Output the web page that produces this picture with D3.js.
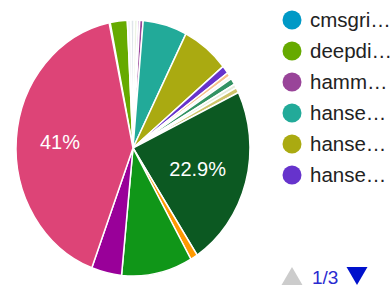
<!DOCTYPE html>
<html>
<head>
<meta charset="utf-8">
<script src="https://cdn.jsdelivr.net/npm/d3@7"></script>
<style>
  body { margin: 0; background: #fff; }
  svg { display: block; font-family: Arial, "Liberation Sans", sans-serif; }
</style>
</head>
<body>
<svg id="chart" width="391" height="290"></svg>
<script>
// slice values (percent), clockwise from the first slice
const sliceValues = [0.15, 2.35, 0.5, 0.45, 0.45, 0.3, 0.47, 6.08, 6.53, 1.0,
  0.5, 0.4, 0.8, 0.5, 0.66, 22.9, 1.0, 9.8, 4.16, 41];
const sliceColors = ['#0099c6', '#66aa00', '#f2f4f6', '#dfe5ea', '#edf4e6', '#dcb8e4', '#994499', '#22aa99', '#aaaa11', '#6633cc',
  '#f6c08a', '#f6f7f3', '#329262', '#e4eddc', '#cfc46a', '#0c5922', '#ff9900', '#109618', '#990099', '#dd4477'];

// legend page 1 of 3
const legendNames = ['cmsgri…', 'deepdi…', 'hamm…', 'hanse…', 'hanse…', 'hanse…'];
const legendColors = ['#0099c6', '#66aa00', '#994499', '#22aa99', '#aaaa11', '#6633cc'];
const pageLabel = '1/3';

const svg = d3.select('#chart');

const cx = 133, cy = 148, rx = 117, ry = 128;
const startAngle = -11.8 * Math.PI / 180;

const pie = d3.pie().sort(null)
  .startAngle(startAngle).endAngle(startAngle + 2 * Math.PI);
const arcs = pie(sliceValues);
const total = d3.sum(sliceValues);

const arc = d3.arc().innerRadius(0).outerRadius(ry);
const labelArc = d3.arc().innerRadius(ry * 0.6).outerRadius(ry * 0.6);

// pie is drawn a bit narrower than tall
const pieG = svg.append('g')
  .attr('transform', `translate(${cx},${cy}) scale(${rx / ry},1)`);

pieG.selectAll('path').data(arcs).enter()
  .append('path')
  .attr('d', arc)
  .attr('fill', (d, i) => sliceColors[i])
  .attr('stroke', '#fff')
  .attr('stroke-width', 1.5)
  .attr('vector-effect', 'non-scaling-stroke');

const fmt = d3.format('.3~r');
svg.append('g').selectAll('text')
  .data(arcs.filter(d => d.value / total > 0.2))
  .enter()
  .append('text')
  .attr('x', d => cx + labelArc.centroid(d)[0] * rx / ry - 3)
  .attr('y', d => cy + labelArc.centroid(d)[1])
  .attr('dy', '0.35em')
  .attr('text-anchor', 'middle')
  .attr('font-size', 20)
  .attr('fill', '#fff')
  .text(d => fmt(d.value / total * 100) + '%');

// legend
const legend = svg.append('g');
const rowY = d3.scalePoint().domain(d3.range(legendNames.length))
  .range([20, 20 + 31 * (legendNames.length - 1)]);

legend.selectAll('circle').data(legendNames).enter()
  .append('circle')
  .attr('cx', 292)
  .attr('cy', (d, i) => rowY(i))
  .attr('r', 9.5)
  .attr('fill', (d, i) => legendColors[i]);

legend.selectAll('text').data(legendNames).enter()
  .append('text')
  .attr('x', 310)
  .attr('y', (d, i) => rowY(i))
  .attr('dy', '0.35em')
  .attr('font-size', 20.5)
  .attr('fill', '#222')
  .text(d => d);

// pager
const tri = d3.symbol(d3.symbolTriangle, 190);
svg.append('path')
  .attr('d', tri())
  .attr('transform', 'translate(292,279)')
  .attr('fill', '#cccccc');
svg.append('text')
  .attr('x', 312)
  .attr('y', 277)
  .attr('dy', '0.35em')
  .attr('font-size', 19)
  .attr('fill', '#2a2ad0')
  .text(pageLabel);
svg.append('path')
  .attr('d', tri())
  .attr('transform', 'translate(357,273) rotate(180)')
  .attr('fill', '#0011cc');
</script>
</body>
</html>
